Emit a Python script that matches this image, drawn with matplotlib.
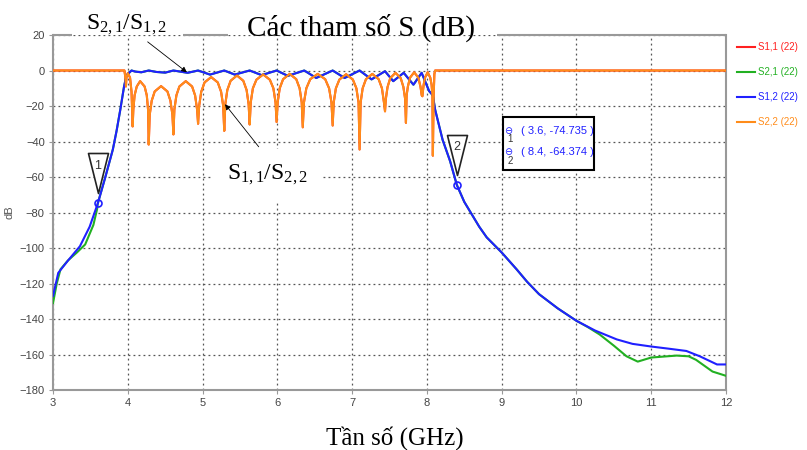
import matplotlib
matplotlib.use("Agg")
import matplotlib.pyplot as plt
from matplotlib.path import Path
from matplotlib.patches import Rectangle

# S1,2 (blue)
s12_f = [3.0, 3.07, 3.19, 3.36, 3.49, 3.6, 3.7, 3.8, 3.85, 3.9, 3.95, 3.98, 4.0, 4.05,
         4.1, 4.18, 4.28, 4.38, 4.5, 4.61, 4.7, 4.8, 4.94, 5.1, 5.29, 5.43, 5.63, 5.79,
         5.99, 6.14, 6.36, 6.52, 6.74, 6.90, 7.10, 7.26, 7.44, 7.55, 7.69, 7.82, 7.93,
         8.03, 8.08, 8.11, 8.21, 8.31, 8.4, 8.5, 8.6, 8.7, 8.8, 9.0, 9.2, 9.34, 9.5,
         9.75, 10.0, 10.25, 10.54, 10.75, 11.0, 11.25, 11.47, 11.65, 11.8, 11.88, 12.0]
s12_db = [-127, -114, -107.6, -99, -88, -74.7, -60, -44.5, -34, -22, -9, -3.2, -2, 0,
          -0.6, -1, 0, -0.8, -1.2, 0, -0.6, -1.3, 0, -2.3, 0, -2.3, 0, -2.6,
          0, -3, 0, -4.2, 0, -4.2, 0, -5, -0.4, -6, -1.3, -8, -1.3,
          -11.6, -14, -22, -39, -51, -64.4, -74, -81, -88, -94, -102.5, -112, -119, -126,
          -134, -141, -146.5, -151.5, -154, -155.5, -156.8, -158, -161, -164, -165.6, -165.6]

# S2,1 (green) differs from S1,2 only at both ends
s21_low_f = [3.0, 3.05, 3.1, 3.2, 3.32, 3.43, 3.54, 3.59]
s21_low_db = [-131, -120, -112, -107, -102.5, -98, -87, -78]
s21_high_f = [10.15, 10.31, 10.5, 10.67, 10.82, 11.0, 11.34, 11.5, 11.6, 11.82, 12.0]
s21_high_db = [-144.5, -148.7, -155, -161, -164, -161.7, -160.6, -161, -163, -169.6, -172]

# S1,1 / S2,2 (orange, red lies underneath)
s22_f = [3.0, 3.955, 3.968, 3.975, 3.982, 4.0, 4.03, 4.05, 4.065,
         4.074, 4.091, 4.12, 4.165, 4.225, 4.254, 4.271, 4.28,
         4.293, 4.32, 4.36, 4.445, 4.53, 4.57, 4.597, 4.61,
         4.623, 4.65, 4.69, 4.775, 4.86, 4.90, 4.927, 4.94,
         4.954, 4.982, 5.027, 5.115, 5.203, 5.248, 5.276, 5.29,
         5.304, 5.331, 5.375, 5.46, 5.545, 5.589, 5.616, 5.63,
         5.644, 5.673, 5.72, 5.81, 5.90, 5.947, 5.976, 5.99,
         6.004, 6.032, 6.077, 6.165, 6.253, 6.298, 6.326, 6.34,
         6.356, 6.388, 6.44, 6.54, 6.64, 6.692, 6.724, 6.74,
         6.754, 6.783, 6.83, 6.92, 7.01, 7.057, 7.086, 7.10,
         7.114, 7.141, 7.185, 7.27, 7.355, 7.399, 7.426, 7.44,
         7.451, 7.474, 7.51, 7.58, 7.65, 7.686, 7.709, 7.72,
         7.729, 7.746, 7.775, 7.83, 7.885, 7.914, 7.931, 7.94,
         7.946, 7.957, 7.975, 8.01, 8.045, 8.063, 8.074, 8.08,
         8.09, 8.1, 8.11, 12.0]
s22_db = [0, 0, -4, -9, -4, -1.5, -4, -12, -31.5,
          -22, -14, -9, -6, -9, -14, -22, -41.7,
          -25, -17, -11.8, -8.8, -11.8, -17, -25, -36,
          -22, -14, -9, -6, -9, -14, -22, -30,
          -20, -12, -6.7, -3.7, -6.7, -12, -20, -34,
          -19, -11, -5.8, -2.8, -5.8, -11, -19, -30.4,
          -18, -10, -5.2, -2.2, -5.2, -10, -18, -29,
          -18, -10, -4.9, -1.9, -4.9, -10, -18, -32,
          -18, -10, -4.9, -1.9, -4.9, -10, -18, -31,
          -18, -10, -5.1, -2.1, -5.1, -10, -18, -44.5,
          -18, -10, -4.9, -1.9, -4.9, -10, -18, -23,
          -16, -9.3, -4.3, -1.3, -4.3, -9.3, -16, -29.5,
          -14, -9, -4, -1, -4, -9, -14, -14.5,
          -12, -8, -4, -1, -4, -8, -14, -48,
          -15, -2, 0, 0]

# markers
mk_f = [3.6, 8.4]
mk_db = [-74.735, -64.374]

labels = ["S1,1 (22)", "S2,1 (22)", "S1,2 (22)", "S2,2 (22)"]
colors = ["#ff2020", "#22b022", "#2020ff", "#ff8c1a"]
xticks = list(range(3, 13))
yticks = list(range(-180, 21, 20))

plt.rcParams['mathtext.fontset'] = 'custom'
plt.rcParams['mathtext.rm'] = 'Liberation Serif'
plt.rcParams['mathtext.it'] = 'Liberation Serif:italic'
small = 'Liberation Sans'

fig = plt.figure(figsize=(8.07, 4.5), dpi=100)
ax = fig.add_axes([0.0657, 0.1333, 0.8339, 0.7889])

i_lo = s12_f.index(3.6)
i_hi = s12_f.index(10.0)
s21_f = s21_low_f + s12_f[i_lo:i_hi + 1] + s21_high_f
s21_db = s21_low_db + s12_db[i_lo:i_hi + 1] + s21_high_db

ax.plot(s22_f, s22_db, color=colors[0], lw=1.5, label=labels[0], zorder=3)
ax.plot(s21_f, s21_db, color=colors[1], lw=1.5, label=labels[1], zorder=3)
ax.plot(s12_f, s12_db, color=colors[2], lw=1.5, label=labels[2], zorder=3)
ax.plot(s22_f, s22_db, color=colors[3], lw=1.5, label=labels[3], zorder=3)

ax.set_xlim(3, 12)
ax.set_ylim(-180, 20)
ax.set_xticks(xticks)
ax.set_yticks(yticks)
ax.grid(True, linestyle=(0, (1.5, 2.5)), color='#555555', lw=0.9)
ax.set_axisbelow(True)
for s in ['left', 'bottom', 'right']:
    ax.spines[s].set_color('#999999')
    ax.spines[s].set_linewidth(1.5)
ax.spines['top'].set_visible(False)
# top frame, partly hidden behind the labels
ax.hlines([20, 20, 20], [3, 4.74, 8.94], [3.25, 5.34, 12], color='#999999', lw=1.5, clip_on=False)
ax.tick_params(colors='#999999', labelcolor='#444444', labelsize=8, length=3, pad=3)
for t in ax.get_xticklabels() + ax.get_yticklabels():
    t.set_family(small)

ax.set_ylabel('dB', fontsize=8, color='#555555', family=small)
ax.yaxis.set_label_coords(-0.0565, 0.5)
ax.set_xlabel('Tần số (GHz)', fontsize=18, family='Liberation Serif')
ax.xaxis.set_label_coords(0.508, -0.102)

fig.text(0.447, 0.938, 'Các tham số S (dB)', ha='center', va='center',
         fontsize=21, family='Liberation Serif')

ax.annotate(r'$\mathrm{S_{2,1}/S_{1,2}}$', xy=(4.79, -1), xytext=(3.98, 25.5),
            ha='center', va='center', fontsize=17, annotation_clip=False,
            arrowprops=dict(arrowstyle='-|>', color='black', lw=0.6,
                            mutation_scale=8, shrinkB=0))
ax.annotate(r'$\mathrm{S_{1,1}/S_{2,2}}$', xy=(5.30, -19), xytext=(5.87, -59),
            ha='center', va='center', fontsize=17,
            bbox=dict(boxstyle='square,pad=0.6', fc='white', ec='none'),
            arrowprops=dict(arrowstyle='-|>', color='black', lw=0.6,
                            mutation_scale=8, shrinkB=0, relpos=(0.55, 1)), zorder=6)

# marker flags
tri = Path([(-10, 50), (10, 50), (0, 10), (-10, 50)], closed=True)
ax.plot(mk_f, mk_db, ls='none', marker=tri, ms=72, mfc='white', mec='#222222',
        mew=1.2, zorder=2.5)
ax.plot(mk_f, mk_db, ls='none', marker='o', ms=5, mfc='none', mec=colors[2],
        mew=1.2, zorder=5)
for i, (x, y) in enumerate(zip(mk_f, mk_db)):
    ax.annotate(str(i + 1), (x, y), xytext=(0, 27), textcoords='offset points',
                ha='center', va='center', fontsize=9, color='#333333', family=small)

# marker readout
ax.add_patch(Rectangle((0.669, 0.620), 0.135, 0.149, transform=ax.transAxes,
                       fc='white', ec='black', lw=1.5, zorder=6))
for i, (x, y) in enumerate(zip(mk_f, mk_db)):
    yy = 0.730 - i * 0.060
    ax.text(0.676, yy, '⊖', transform=ax.transAxes, color=colors[2], fontsize=7,
            ha='center', va='center', zorder=7)
    ax.text(0.679, yy - 0.024, str(i + 1), transform=ax.transAxes, color='#333333',
            fontsize=7, ha='center', va='center', zorder=7, family=small)
    ax.text(0.695, yy, '( %g, %.3f )' % (x, y), transform=ax.transAxes,
            color=colors[2], fontsize=8, va='center', zorder=7, family=small)

ax.legend(loc='upper left', bbox_to_anchor=(737 / 807, 1 - 42 / 450),
          bbox_transform=fig.transFigure, frameon=False,
          prop={'family': small, 'size': 7},
          handlelength=1.8, handletextpad=0.4, labelspacing=1.55,
          borderaxespad=0, borderpad=0, labelcolor='linecolor')

fig.savefig('out.png', dpi=100)
